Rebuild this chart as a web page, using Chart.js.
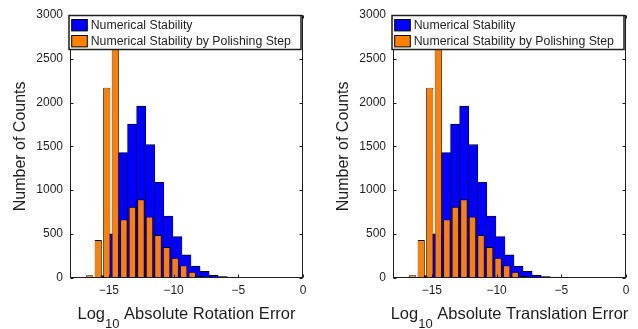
<!DOCTYPE html>
<html>
<head>
<meta charset="utf-8">
<script src="https://cdn.jsdelivr.net/npm/chart.js@4.4.1/dist/chart.umd.min.js"></script>
<style>
  html, body { margin: 0; padding: 0; background: #fff; }
  #wrap { position: relative; width: 638px; height: 329px; overflow: hidden; }
  .panel { position: absolute; top: 0; width: 315px; height: 329px; }
  #p1 { left: 0; }
  #p2 { left: 323px; }
</style>
</head>
<body>
<div id="wrap">
  <div class="panel" id="p1"><canvas id="rot"></canvas></div>
  <div class="panel" id="p2"><canvas id="trans"></canvas></div>
</div>
<script>
// histogram bins (log10 of the error) and counts
// both panels show the same counts
const blueCenters = [-15.3, -14.6, -13.9, -13.2, -12.5, -11.8, -11.1, -10.4, -9.7, -9.0, -8.3,
  -7.6, -6.9, -6.2, -5.5, -4.8, -4.1, -3.4, -2.7, -2.0, -1.3];
const blueCounts = [25, 500, 1430, 1755, 1960, 1520, 1090, 705, 470, 260, 132,
  72, 30, 14, 6, 3, 2, 2, 1, 3, 1];

const orangeCenters = [-16.48, -15.82, -15.16, -14.50, -13.84, -13.18, -12.52, -11.86,
  -11.20, -10.54, -9.88, -9.22, -8.56, -7.90];
const orangeCounts = [28, 430, 2170, 3015, 665, 810, 895, 697, 487, 350, 228, 140, 66, 18];

const xTicks = [-15, -10, -5, 0];
const yTicks = [0, 500, 1000, 1500, 2000, 2500, 3000];

const seriesNames = ["Numerical Stability", "Numerical Stability by Polishing Step"];
const xTitles = ["Absolute Rotation Error", "Absolute Translation Error"];
const yTitle = "Number of Counts";

const FONT = "'Liberation Sans', Arial, sans-serif";
const INK = "#1e1e1e";
const BLUE = "#0000ff";
const ORANGE = "#ff8000";

function minus(v) {
  return v < 0 ? "\u2212" + Math.abs(v) : String(v);
}

// box, inward ticks, legend and the subscripted x title (MATLAB look)
function framePlugin(xTitle) {
  return {
    id: "frame",
    afterDatasetsDraw(chart) {
      const { ctx, chartArea: a, scales } = chart;
      const L = Math.round(a.left) + 0.5, R = Math.round(a.right) - 0.5;
      const T = Math.round(a.top) + 0.5, B = Math.round(a.bottom) - 0.5;
      ctx.save();
      ctx.strokeStyle = INK;
      ctx.lineWidth = 1;
      ctx.strokeRect(L, T, R - L, B - T);

      ctx.beginPath();
      yTicks.forEach(v => {
        const y = Math.round(scales.y.getPixelForValue(v)) + 0.5;
        ctx.moveTo(L, y); ctx.lineTo(L + 3, y);
        ctx.moveTo(R, y); ctx.lineTo(R - 3, y);
      });
      xTicks.forEach(v => {
        const x = Math.round(scales.x.getPixelForValue(v)) + 0.5;
        ctx.moveTo(x, B); ctx.lineTo(x, B - 3);
        ctx.moveTo(x, T); ctx.lineTo(x, T + 3);
      });
      ctx.stroke();

      // legend
      const lx = a.left - 1, ly = a.top + 0.5, lw = a.right - a.left - 1, lh = 34;
      ctx.fillStyle = "#fff";
      ctx.fillRect(lx, ly, lw, lh);
      ctx.lineWidth = 1.5;
      ctx.strokeRect(lx, ly, lw, lh);
      ctx.font = "12.3px " + FONT;
      ctx.textBaseline = "middle";
      ctx.textAlign = "left";
      chart.data.datasets.forEach((ds, i) => {
        const py = a.top + 4.5 + i * 16;
        ctx.fillStyle = ds.backgroundColor;
        ctx.fillRect(a.left + 1.7, py, 15.6, 11.4);
        ctx.lineWidth = 1;
        ctx.strokeStyle = "#000";
        ctx.strokeRect(a.left + 1.7, py, 15.6, 11.4);
        ctx.fillStyle = INK;
        ctx.fillText(ds.label, a.left + 20.7, py + 6);
      });
      ctx.restore();
    },
    afterDraw(chart) {
      const { ctx, chartArea: a } = chart;
      const big = "16.5px " + FONT, small = "13px " + FONT;
      const rest = " " + xTitle;
      ctx.save();
      ctx.fillStyle = INK;
      ctx.textBaseline = "alphabetic";
      ctx.textAlign = "left";
      ctx.font = big;
      const w1 = ctx.measureText("Log").width;
      const w3 = ctx.measureText(rest).width;
      ctx.font = small;
      const w2 = ctx.measureText("10").width;
      let x = (a.left + a.right) / 2 - (w1 + w2 + w3) / 2;
      const base = a.bottom + 41.5;
      ctx.font = big;
      ctx.fillText("Log", x, base);
      x += w1;
      ctx.font = small;
      ctx.fillText("10", x, base + 9);
      x += w2;
      ctx.font = big;
      ctx.fillText(rest, x, base);
      ctx.restore();
    }
  };
}

const fixTicks = s => { s.ticks = xTicks.map(v => ({ value: v })); };

function makeChart(id, xTitle) {
  return new Chart(document.getElementById(id), {
    type: "bar",
    data: {
      datasets: [
        {
          label: seriesNames[0],
          data: blueCenters.map((c, i) => ({ x: c, y: blueCounts[i] })),
          backgroundColor: BLUE,
          borderColor: "#000",
          borderWidth: { top: 0.9, left: 0.5, right: 0.5, bottom: 0 },
          barPercentage: 1,
          categoryPercentage: 1,
          grouped: false,
          xAxisID: "x",
          order: 1
        },
        {
          label: seriesNames[1],
          data: orangeCenters.map((c, i) => ({ x: c, y: orangeCounts[i] })),
          backgroundColor: ORANGE,
          borderColor: "#000",
          borderWidth: { top: 0.9, left: 0.8, right: 0.8, bottom: 0 },
          barPercentage: 0.84,
          categoryPercentage: 1,
          grouped: false,
          xAxisID: "x2",
          order: 0
        }
      ]
    },
    options: {
      responsive: true,
      maintainAspectRatio: false,
      animation: false,
      layout: { padding: { top: 15, right: 12, left: 0, bottom: 0 } },
      plugins: { legend: { display: false }, tooltip: { enabled: false } },
      scales: {
        x: {
          type: "linear",
          min: -18,
          max: 0,
          offset: false,
          grid: { display: false, drawTicks: false },
          border: { display: false },
          afterBuildTicks: fixTicks,
          afterFit: s => { s.height = 51.3; },
          ticks: {
            padding: 6,
            color: INK,
            font: { family: FONT, size: 12 },
            maxRotation: 0,
            callback: v => minus(v)
          }
        },
        x2: {
          type: "linear",
          min: -18,
          max: 0,
          offset: false,
          display: false,
          afterBuildTicks: fixTicks
        },
        y: {
          min: 0,
          max: 3000,
          grid: { display: false, drawTicks: false },
          border: { display: false },
          afterBuildTicks: s => { s.ticks = yTicks.map(v => ({ value: v })); },
          afterFit: s => { s.width = 70; },
          ticks: {
            padding: 7,
            color: INK,
            font: { family: FONT, size: 12 },
            callback: v => String(v)
          },
          title: {
            display: true,
            text: yTitle,
            color: INK,
            font: { family: FONT, size: 16 },
            padding: { top: 11, bottom: 0 }
          }
        }
      }
    },
    plugins: [framePlugin(xTitle)]
  });
}

makeChart("rot", xTitles[0]);
makeChart("trans", xTitles[1]);
</script>
</body>
</html>
